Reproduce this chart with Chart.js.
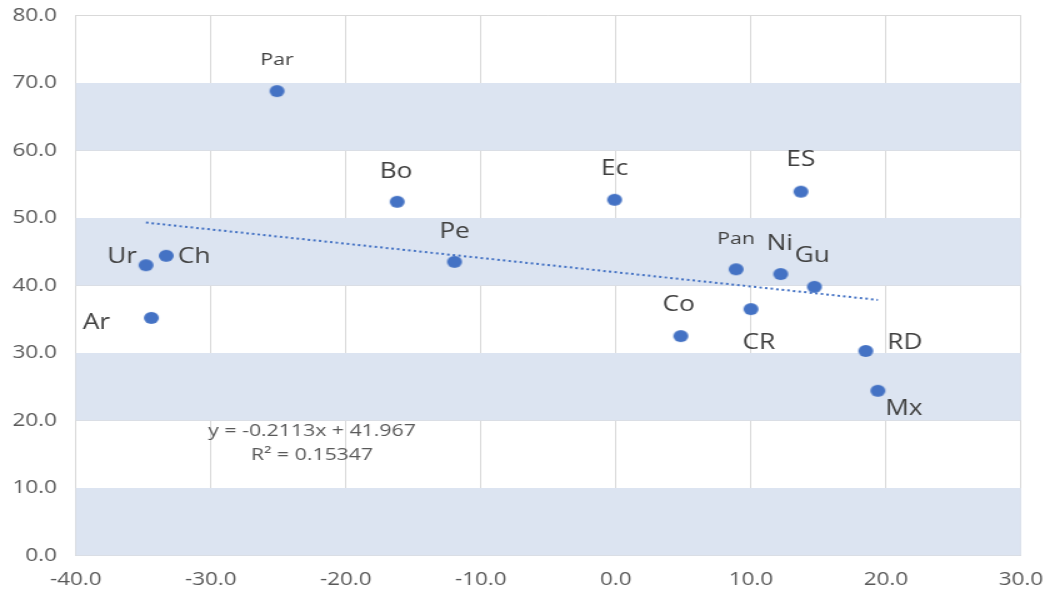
<!DOCTYPE html>
<html>
<head>
<meta charset="utf-8">
<script src="https://cdn.jsdelivr.net/npm/chart.js@4.4.1/dist/chart.umd.min.js"></script>
<style>
html, body { margin: 0; padding: 0; background: #fff; overflow: hidden; }
#wrap { width: 836px; height: 598px; transform: scale(1.25, 1); transform-origin: 0 0; }
</style>
</head>
<body>
<div id="wrap"><canvas id="chart" width="836" height="598"></canvas></div>
<script>
// data
const countries = ['Par', 'Bo', 'Pe', 'Ec', 'ES', 'Pan', 'Ni', 'Gu', 'Ur', 'Ch', 'Ar', 'Co', 'CR', 'RD', 'Mx'];
const xValues = [-25.1, -16.2, -11.95, -0.1, 13.7, 8.9, 12.2, 14.7, -34.8, -33.3, -34.4, 4.8, 10.0, 18.5, 19.4];
const yValues = [68.8, 52.4, 43.5, 52.7, 53.9, 42.4, 41.7, 39.8, 43.0, 44.4, 35.2, 32.5, 36.5, 30.3, 24.4];
const xTicks = [-40, -30, -20, -10, 0, 10, 20, 30];
const yTicks = [0, 10, 20, 30, 40, 50, 60, 70, 80];
const trendSlope = -0.2113;
const trendIntercept = 41.967;
const trendText = ['y = -0.2113x + 41.967', 'R\u00B2 = 0.15347'];
const bandRanges = [[0, 10], [20, 30], [40, 50], [60, 70]];

// styling
const SX = 1.25; // page is stretched horizontally
const blue = '#4472c4';
// label offset from its point, in screen px [dx, dy]
const labelOffsets = [[0, -31], [-1, -30], [0, -30], [0, -31], [0, -32], [0, -30], [-1, -30], [-2, -31],
    [-24, -8], [28, 1], [-55, 5], [-2, -31], [8, 34], [39, -8], [26, 18]];
const smallLabels = ['Par', 'Pan'];

const dot = document.createElement('canvas');
dot.width = 14; dot.height = 14;
const dctx = dot.getContext('2d');
dctx.fillStyle = blue;
dctx.beginPath();
dctx.arc(7, 7, 6, 0, Math.PI * 2);
dctx.fill();

const points = xValues.map((x, i) => ({ x: x, y: yValues[i] }));
const xMin = Math.min(...xValues);
const xMax = Math.max(...xValues);
const trendPoints = [
    { x: xMin, y: trendSlope * xMin + trendIntercept },
    { x: xMax, y: trendSlope * xMax + trendIntercept }
];

const bandPlugin = {
    id: 'bands',
    beforeDatasetsDraw(chart) {
        const { ctx, chartArea, scales } = chart;
        ctx.save();
        ctx.fillStyle = '#dce4f1';
        bandRanges.forEach(b => {
            const y1 = scales.y.getPixelForValue(b[1]);
            const y0 = scales.y.getPixelForValue(b[0]);
            ctx.fillRect(chartArea.left, y1, chartArea.right - chartArea.left, y0 - y1);
        });
        ctx.restore();
    }
};

const labelPlugin = {
    id: 'pointLabels',
    afterDatasetsDraw(chart) {
        const { ctx, scales } = chart;
        const meta = chart.getDatasetMeta(0);
        ctx.save();
        ctx.textAlign = 'center';
        ctx.textBaseline = 'middle';
        ctx.fillStyle = '#404040';
        meta.data.forEach((el, i) => {
            const name = countries[i];
            ctx.font = smallLabels.includes(name) ? '17px "Open Sans"' : '21px "Open Sans"';
            ctx.fillText(name, el.x + labelOffsets[i][0] / SX, el.y + labelOffsets[i][1]);
        });
        // trendline equation
        ctx.fillStyle = '#595959';
        ctx.font = '17px "Open Sans"';
        const ex = scales.x.getPixelForValue(-22.5);
        const ey = scales.y.getPixelForValue(18.4);
        ctx.fillText(trendText[0], ex, ey);
        ctx.fillText(trendText[1], ex, ey + 24);
        ctx.restore();
    }
};

new Chart(document.getElementById('chart'), {
    type: 'scatter',
    data: {
        datasets: [{
            data: points,
            pointStyle: dot,
            pointRadius: 7,
            pointHoverRadius: 7
        }, {
            type: 'line',
            data: trendPoints,
            borderColor: blue,
            borderWidth: 2,
            borderDash: [2, 2.5],
            pointRadius: 0,
            fill: false
        }]
    },
    options: {
        responsive: false,
        animation: false,
        events: [],
        layout: { padding: { top: 15.5, right: 19.2, left: 0, bottom: 0 } },
        plugins: { legend: { display: false }, tooltip: { enabled: false } },
        scales: {
            x: {
                type: 'linear',
                min: -40, max: 30,
                afterBuildTicks: s => { s.ticks = xTicks.map(v => ({ value: v })); },
                afterFit: s => { s.height = 42.5; s.paddingLeft = 0; s.paddingRight = 0; },
                grid: { color: '#d9d9d9', drawTicks: false },
                border: { color: '#d9d9d9' },
                ticks: {
                    padding: 14,
                    color: '#595959',
                    font: { family: '"Open Sans"', size: 18 },
                    callback: v => v.toFixed(1)
                }
            },
            y: {
                min: 0, max: 80,
                afterBuildTicks: s => { s.ticks = yTicks.map(v => ({ value: v })); },
                afterFit: s => { s.width = 60.6; s.paddingTop = 0; s.paddingBottom = 0; },
                grid: { color: '#d9d9d9', drawTicks: false },
                border: { color: '#d9d9d9' },
                ticks: {
                    padding: 15,
                    color: '#595959',
                    font: { family: '"Open Sans"', size: 18 },
                    callback: v => v.toFixed(1)
                }
            }
        }
    },
    plugins: [bandPlugin, labelPlugin]
});
</script>
</body>
</html>
